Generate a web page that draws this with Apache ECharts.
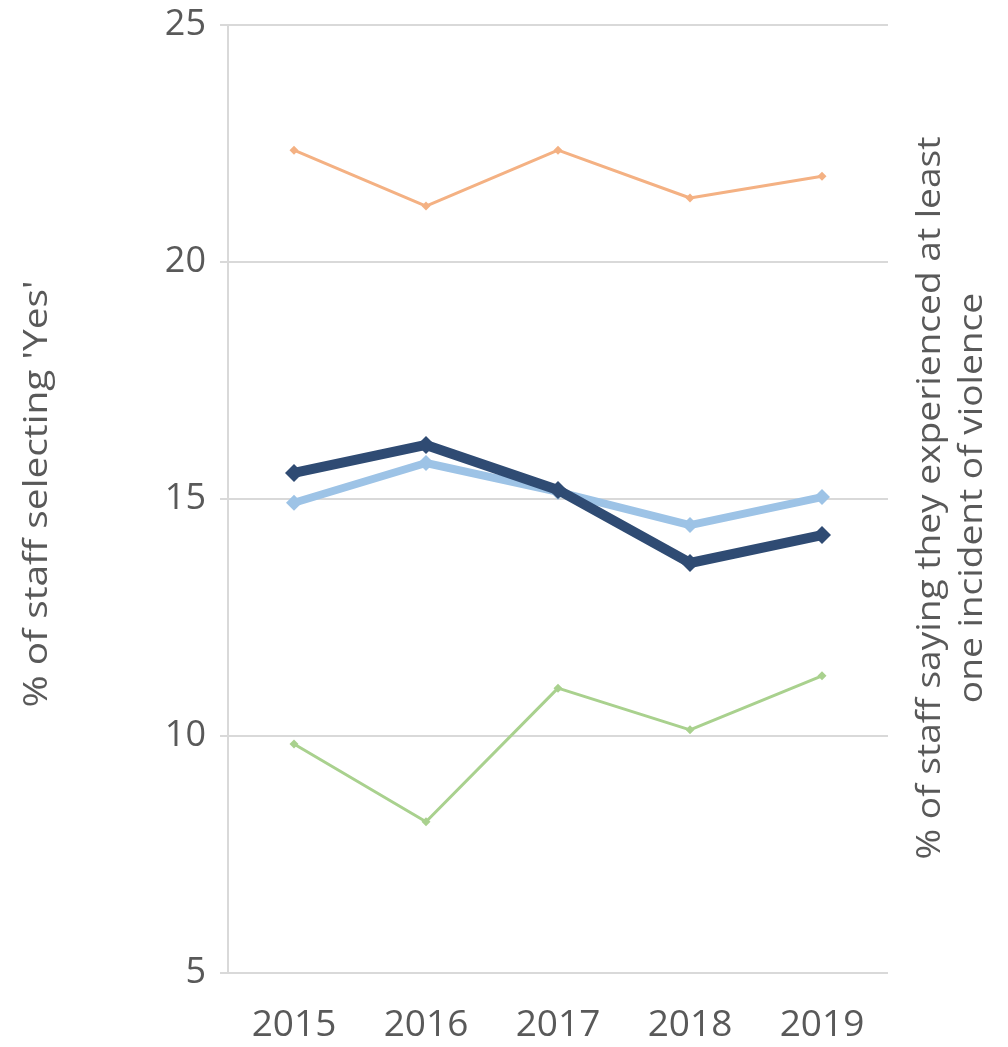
<!DOCTYPE html>
<html>
<head>
<meta charset="utf-8">
<script src="https://cdn.jsdelivr.net/npm/echarts@6/dist/echarts.min.js"></script>
<style>
html,body{margin:0;padding:0;background:#fff;}
#chart{width:1008px;height:1047px;}
</style>
</head>
<body>
<div id="chart"></div>
<script>
const categories = ['2015', '2016', '2017', '2018', '2019'];
const orangeValues = [22.36, 21.18, 22.36, 21.35, 21.81];
const navyValues = [15.55, 16.14, 15.19, 13.65, 14.24];
const lightBlueValues = [14.92, 15.76, 15.15, 14.45, 15.04];
const greenValues = [9.83, 8.19, 11.01, 10.13, 11.27];
const yTicks = [5, 10, 15, 20, 25];
const leftTitle = "% of staff selecting 'Yes'";
const rightTitleLines = ['% of staff saying they experienced at least', 'one incident of violence'];

const FONT = '"Open Sans", "Noto Sans", sans-serif';
const TITLE_FONT = '32px ' + FONT;
const chart = echarts.init(document.getElementById('chart'));

// stretch rotated titles along their length to match the reference's tall glyphs
const mctx = document.createElement('canvas').getContext('2d');
mctx.font = TITLE_FONT;
const leftScale = 427 / mctx.measureText(leftTitle).width;
const rightScale = 723 / mctx.measureText(rightTitleLines[0]).width;

function lineSeries(name, data, color, width, symSize, z) {
  return {
    name: name, type: 'line', data: data, z: z,
    symbol: 'diamond', symbolSize: symSize,
    lineStyle: { color: color, width: width },
    itemStyle: { color: color },
    emphasis: { disabled: true },
    animation: false
  };
}

chart.setOption({
  backgroundColor: '#ffffff',
  animation: false,
  grid: { left: 228, right: 120, top: 25, bottom: 74 },
  xAxis: {
    type: 'category', data: categories, boundaryGap: true,
    axisLine: { show: false },
    axisTick: { show: false },
    axisLabel: { color: '#595959', fontSize: 37, fontFamily: FONT, margin: 34 }
  },
  yAxis: {
    type: 'value', min: yTicks[0], max: yTicks[yTicks.length - 1], interval: 5,
    axisLine: { show: true, lineStyle: { color: '#d9d9d9', width: 2 } },
    axisTick: { show: true, length: 8, lineStyle: { color: '#d9d9d9', width: 2 } },
    splitLine: { show: true, lineStyle: { color: '#d9d9d9', width: 2 } },
    axisLabel: { color: '#595959', fontSize: 36, fontFamily: FONT, margin: 22 }
  },
  graphic: [
    { type: 'text', x: 38, y: 494, rotation: Math.PI / 2, scaleX: leftScale,
      style: { text: leftTitle, fill: '#595959', font: TITLE_FONT, textAlign: 'center', textVerticalAlign: 'middle' } },
    { type: 'text', x: 931, y: 498, rotation: Math.PI / 2, scaleX: rightScale,
      style: { text: rightTitleLines[0], fill: '#595959', font: TITLE_FONT, textAlign: 'center', textVerticalAlign: 'middle' } },
    { type: 'text', x: 973, y: 498, rotation: Math.PI / 2, scaleX: rightScale,
      style: { text: rightTitleLines[1], fill: '#595959', font: TITLE_FONT, textAlign: 'center', textVerticalAlign: 'middle' } }
  ],
  series: [
    lineSeries('green', greenValues, '#a9d18e', 3, 9, 2),
    lineSeries('orange', orangeValues, '#f4b183', 3, 9, 2),
    lineSeries('lightblue', lightBlueValues, '#9dc3e6', 8, 16, 3),
    lineSeries('navy', navyValues, '#2f4b73', 10, 18, 4)
  ]
});
</script>
</body>
</html>
